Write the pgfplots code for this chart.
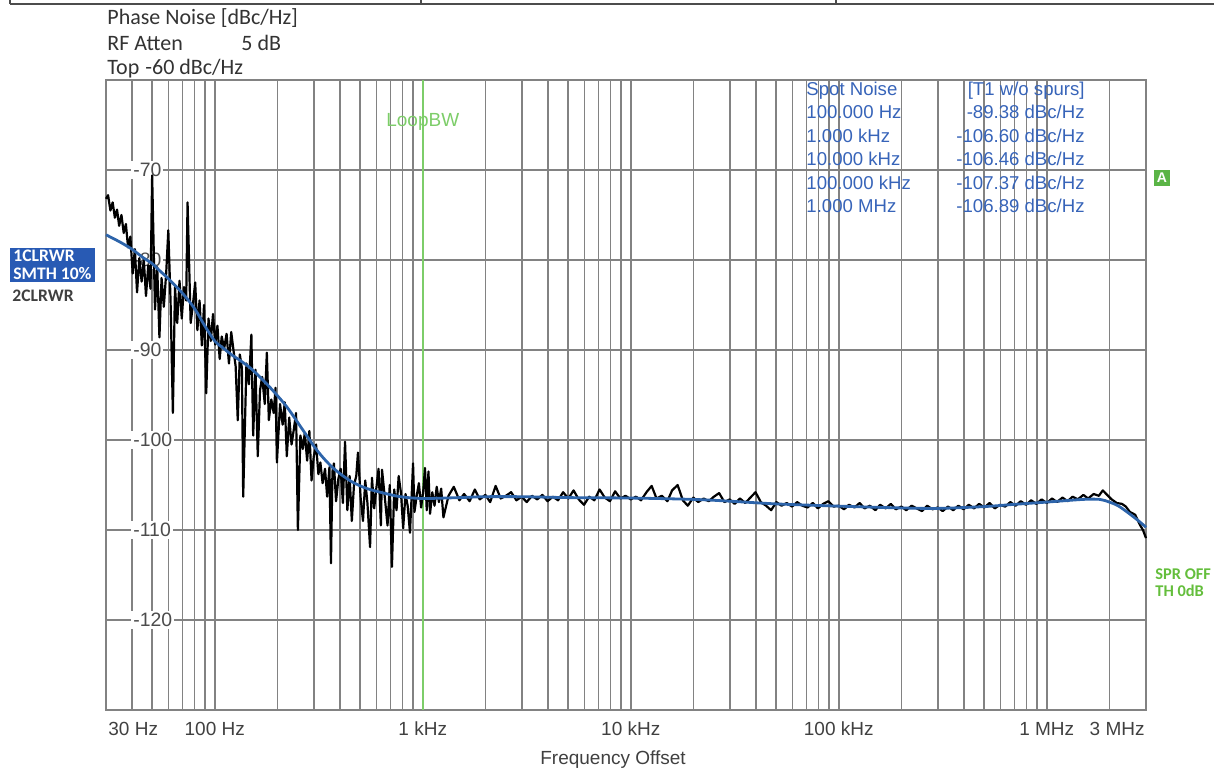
\documentclass[border=0pt]{standalone}
\usepackage{pgfplots}
\pgfplotsset{compat=1.18}
\usepackage{fontspec}
\setmainfont{Liberation Sans}
\newfontfamily\calibri{Carlito}
\definecolor{gridgray}{RGB}{130,130,130}
\definecolor{traceblue}{RGB}{45,100,170}
\definecolor{tblblue}{RGB}{55,100,185}
\definecolor{lbwgreen}{RGB}{125,205,105}
\definecolor{boxblue}{RGB}{40,90,180}
\definecolor{boxgreen}{RGB}{90,180,70}
\definecolor{sprgreen}{RGB}{100,190,60}
\begin{document}
\begin{tikzpicture}
\begin{axis}[
  at={(53pt,30pt)}, anchor=south west,
  scale only axis, width=520pt, height=315pt,
  xmode=log, log basis x=10,
  xmin=30, xmax=3e6, ymin=-130, ymax=-60,
  set layers, clip=false,
  axis line style={draw=gridgray, line width=0.8pt},
  xtick={100,1000,10000,100000,1000000},
  xticklabels={100 Hz,1 kHz,10 kHz,100 kHz,1 MHz},
  minor xtick={40,50,60,70,80,90,200,300,400,500,600,700,800,900,2000,3000,4000,5000,6000,7000,8000,9000,20000,30000,40000,50000,60000,70000,80000,90000,200000,300000,400000,500000,600000,700000,800000,900000,2000000},
  xmajorgrids, xminorgrids, ymajorgrids,
  grid style={draw=gridgray, line width=0.8pt},
  major grid style={draw=gridgray, line width=0.8pt},
  minor grid style={draw=gridgray, line width=0.8pt},
  major tick length=0pt, minor tick length=0pt,
  tick style={draw=none},
  ytick={-120,-110,-100,-90,-80,-70},
  yticklabels={-120,-110,-100,-90,-80,-70},
  yticklabel style={anchor=west, xshift=12.5pt, fill=white, inner sep=1pt, font=\fontsize{9.7}{11}\selectfont, text=black!70},
  xticklabel style={anchor=base, yshift=-13pt, font=\fontsize{9.5}{11}\selectfont, text=black!75},
]
\addplot[lbwgreen, line width=0.8pt] coordinates {(1000,-130) (1000,-60)};
\addplot[black, line width=1.1pt, line join=round] coordinates {
(30,-73.2) (30.7,-72.8) (31.5,-74.5) (32.3,-73.6) (33.1,-75.3) (33.9,-74.4) (34.7,-76.2) (35.6,-75.0) (36.5,-77.0) (37.4,-76.0) (38.3,-78.6) (39.3,-77.4) (40.3,-81.5) (41.3,-78.8) (42.3,-83.6) (43.4,-79.8) (44.5,-82.4) (45.6,-80.0) (46.7,-84.0) (47.9,-80.6) (49.1,-83.2) (50,-70.6) (51.6,-85.5) (52.9,-80.8) (54.2,-88.6) (55.5,-82.0) (56.9,-85.2) (58.4,-81.5) (59.8,-76.7) (61.3,-84.5) (62.9,-97.0) (64.4,-83.0) (66,-87.0) (67.7,-82.3) (69.4,-86.5) (71.1,-83.0) (72.9,-84.5) (74,-73.6) (76.6,-87.0) (78.5,-85.0) (80.5,-82.5) (82.5,-87.8) (84.5,-84.5) (86.7,-89.5) (88.8,-85.0) (91,-94.8) (93.3,-86.5) (95.7,-89.0) (98.1,-86.0) (100.5,-89.4) (103,-87.3) (105.6,-91.0) (108,-88.5) (111,-89.8) (114,-88.2) (117,-91.5) (120,-88.0) (123,-90.0) (126,-91.8) (129,-97.8) (132,-90.5) (135,-92.0) (137,-106.3) (142,-91.5) (146,-93.8) (150,-88.3) (153,-99.5) (157,-92.2) (161,-101.8) (165,-94.5) (169,-93.0) (174,-96.0) (178,-90.3) (182,-97.8) (187,-95.5) (192,-97.0) (196,-94.2) (199,-102.5) (206,-96.0) (212,-98.3) (217,-95.8) (222,-101.8) (228,-97.5) (234,-100.5) (240,-98.8) (246,-97.0) (251,-110.0) (258,-99.5) (265,-101.0) (271,-99.2) (278,-102.3) (285,-99.0) (292,-104.5) (299,-101.9) (307,-100.5) (315,-103.8) (322,-102.5) (330,-104.8) (339,-103.2) (347,-106.3) (356,-103.0) (362,-113.7) (368,-103.5) (374,-102.6) (383,-106.8) (393,-104.3) (403,-103.2) (413,-107.0) (423,-100.2) (434,-107.8) (445,-104.0) (456,-109.0) (467,-105.0) (479,-104.0) (488,-101.4) (503,-106.5) (516,-109.0) (529,-104.5) (542,-107.0) (558,-111.9) (570,-104.2) (584,-107.6) (598,-105.4) (613,-103.2) (629,-109.5) (637,-103.3) (661,-107.0) (677,-109.5) (694,-105.0) (711,-114.1) (729,-105.5) (748,-107.8) (766,-104.0) (786,-105.9) (805,-109.8) (826,-106.0) (846,-107.3) (868,-110.3) (889,-105.0) (898,-102.6) (912,-108.0) (934,-106.3) (958,-104.8) (982,-107.5) (1006,-105.6) (1025,-103.1) (1045,-107.8) (1065,-103.5) (1084,-108.2) (1111,-105.8) (1139,-107.3) (1167,-105.2) (1196,-106.9) (1226,-105.4) (1257,-108.6)
(1330,-106.2) (1410,-105.2) (1500,-106.7) (1580,-106.0) (1680,-106.8) (1780,-105.5) (1880,-106.6) (2000,-106.1) (2110,-106.9) (2240,-105.1) (2370,-106.5) (2510,-106.2) (2660,-105.8) (2820,-106.7) (2990,-106.3) (3160,-106.9) (3350,-106.2) (3550,-106.6) (3760,-106.1) (3980,-106.8) (4220,-106.3) (4470,-106.7) (4730,-105.8) (5010,-106.5) (5310,-105.6) (5620,-106.6) (5960,-107.2) (6310,-106.3) (6680,-106.7) (7080,-105.5) (7500,-106.4) (7940,-106.8) (8410,-105.7) (8910,-106.5) (9440,-106.2)
(10000,-106.6) (10600,-106.3) (11200,-106.7) (11900,-105.8) (12600,-105.1) (13300,-106.5) (14100,-106.2) (15000,-106.8) (15800,-105.6) (16800,-105.0) (17800,-106.7) (18800,-107.3) (20000,-106.4) (21100,-106.9) (22400,-106.5) (23700,-106.8) (25100,-106.3) (26600,-105.9) (28200,-106.9) (29900,-106.6) (31600,-107.1) (33500,-106.5) (35500,-107.0) (37600,-106.4) (39800,-105.8) (42200,-106.9) (44700,-107.3) (47300,-107.8) (50100,-106.9) (53100,-107.3) (56200,-107.0) (59600,-107.4) (63100,-106.9) (66800,-107.3) (70800,-107.5) (75000,-107.0) (79400,-107.6) (84100,-107.1) (89100,-106.8) (94400,-107.4)
(100000,-107.3) (106000,-107.7) (112000,-107.2) (119000,-107.5) (126000,-107.0) (133000,-107.6) (141000,-107.3) (150000,-107.8) (158000,-107.2) (168000,-107.6) (178000,-107.1) (188000,-107.7) (200000,-107.4) (211000,-107.8) (224000,-107.3) (237000,-107.6) (251000,-107.9) (266000,-107.3) (282000,-107.7) (299000,-107.5) (316000,-107.9) (335000,-107.4) (355000,-107.8) (376000,-107.3) (398000,-107.7) (422000,-107.2) (447000,-107.6) (473000,-107.1) (501000,-107.5) (531000,-107.0) (562000,-107.6) (596000,-107.2) (631000,-107.4) (668000,-106.9) (708000,-107.3) (750000,-106.8) (794000,-107.2) (841000,-106.7) (891000,-107.1) (944000,-106.6)
(1000000,-107.0) (1060000,-106.5) (1120000,-106.9) (1190000,-106.4) (1260000,-106.8) (1330000,-106.3) (1410000,-106.6) (1500000,-106.1) (1580000,-106.5) (1680000,-106.0) (1780000,-106.2) (1860000,-105.6) (1950000,-106.1) (2050000,-106.6) (2170000,-107.0) (2300000,-107.1) (2400000,-107.4) (2510000,-108.0) (2660000,-108.3) (2800000,-109.4) (2900000,-110.0) (3000000,-110.9)
};
\addplot[traceblue, line width=1.4pt, smooth, tension=0.5] coordinates {
(30,-77.2) (35,-78.0) (40,-78.8) (45,-79.7) (50,-80.4) (55,-81.3) (60,-82.1) (70,-83.7) (80,-85.4) (90,-87.4) (100,-89.0) (110,-89.8) (120,-90.5) (135,-91.3) (150,-92.1) (180,-93.9) (220,-96.2) (260,-98.6) (300,-100.7) (330,-101.9) (370,-103.1) (420,-104.1) (470,-104.8) (540,-105.4) (650,-105.9) (780,-106.3) (1000,-106.5) (1500,-106.4) (2000,-106.3) (3000,-106.3) (5000,-106.4) (10000,-106.45) (20000,-106.6) (30000,-106.8) (50000,-107.1) (100000,-107.35) (200000,-107.55) (300000,-107.6) (500000,-107.4) (700000,-107.15) (1000000,-106.9) (1500000,-106.6) (1800000,-106.6) (2000000,-106.9) (2200000,-107.3) (2500000,-108.2) (2800000,-109.1) (3000000,-109.7)
};
\node[text=lbwgreen, font=\fontsize{9.5}{11}\selectfont] at (axis cs:1000,-64.7) {LoopBW};
\end{axis}
% top border remnants
\draw[black!70, line width=0.6pt] (5pt,383pt) -- (607pt,383pt);
\draw[black!70, line width=0.6pt] (5pt,383pt) -- (5pt,385pt);
\draw[black!70, line width=0.6pt] (210.5pt,383pt) -- (210.5pt,385pt);
\draw[black!70, line width=0.6pt] (418pt,383pt) -- (418pt,385pt);
% header texts
\begin{scope}[every node/.style={inner sep=0pt, text=black!80, font=\calibri\fontsize{11}{13}\selectfont}]
\node[anchor=base west] at (53.5pt,372.5pt) {Phase Noise [dBc/Hz]};
\node[anchor=base west] at (53.5pt,359.5pt) {RF Atten};
\node[anchor=base west] at (120.5pt,359.5pt) {5 dB};
\node[anchor=base west] at (53.5pt,347.5pt) {Top};
\node[anchor=base west] at (72.5pt,347.5pt) {-60 dBc/Hz};
\end{scope}
% spot noise table
\begin{scope}[every node/.style={inner sep=0pt, text=tblblue, font=\fontsize{9.3}{11}\selectfont}]
\node[anchor=base west] at (403pt,337.2pt) {Spot Noise};
\node[anchor=base west] at (403pt,325.5pt) {100.000 Hz};
\node[anchor=base west] at (403pt,313.8pt) {1.000 kHz};
\node[anchor=base west] at (403pt,302.1pt) {10.000 kHz};
\node[anchor=base west] at (403pt,290.4pt) {100.000 kHz};
\node[anchor=base west] at (403pt,278.7pt) {1.000 MHz};
\node[anchor=base east] at (542.5pt,337.2pt) {[T1 w/o spurs]};
\node[anchor=base east] at (542.5pt,325.5pt) {-89.38 dBc/Hz};
\node[anchor=base east] at (542.5pt,313.8pt) {-106.60 dBc/Hz};
\node[anchor=base east] at (542.5pt,302.1pt) {-106.46 dBc/Hz};
\node[anchor=base east] at (542.5pt,290.4pt) {-107.37 dBc/Hz};
\node[anchor=base east] at (542.5pt,278.7pt) {-106.89 dBc/Hz};
\end{scope}
% left trace boxes
\node[fill=boxblue, text=white, anchor=north west, inner xsep=1.5pt, inner ysep=1pt, align=left, font=\calibri\bfseries\fontsize{8.8}{9}\selectfont] at (5pt,261pt) {1CLRWR\\SMTH 10\%};
\node[anchor=base west, inner sep=0pt, text=black!75, font=\calibri\bfseries\fontsize{8.8}{10}\selectfont] at (6pt,234pt) {2CLRWR};
% right markers
\node[fill=boxgreen, text=white, inner sep=0pt, minimum size=8pt, font=\bfseries\fontsize{7}{8}\selectfont] at (581pt,296pt) {A};
\node[anchor=base west, inner sep=0pt, text=sprgreen, font=\calibri\bfseries\fontsize{8.2}{10}\selectfont] at (577.5pt,95pt) {SPR OFF};
\node[anchor=base west, inner sep=0pt, text=sprgreen, font=\calibri\bfseries\fontsize{8.2}{10}\selectfont] at (577.5pt,86.5pt) {TH 0dB};
% x edge labels and axis title
\node[anchor=base west, inner sep=0pt, text=black!75, font=\fontsize{9.5}{11}\selectfont] at (54pt,17pt) {30 Hz};
\node[anchor=base east, inner sep=0pt, text=black!75, font=\fontsize{9.5}{11}\selectfont] at (572.5pt,17pt) {3 MHz};
\node[anchor=base, inner sep=0pt, text=black!75, font=\fontsize{9.5}{11}\selectfont] at (306.5pt,2.5pt) {Frequency Offset};
\pgfresetboundingbox
\path[use as bounding box] (0,0) rectangle (607pt,385pt);
\end{tikzpicture}
\end{document}
